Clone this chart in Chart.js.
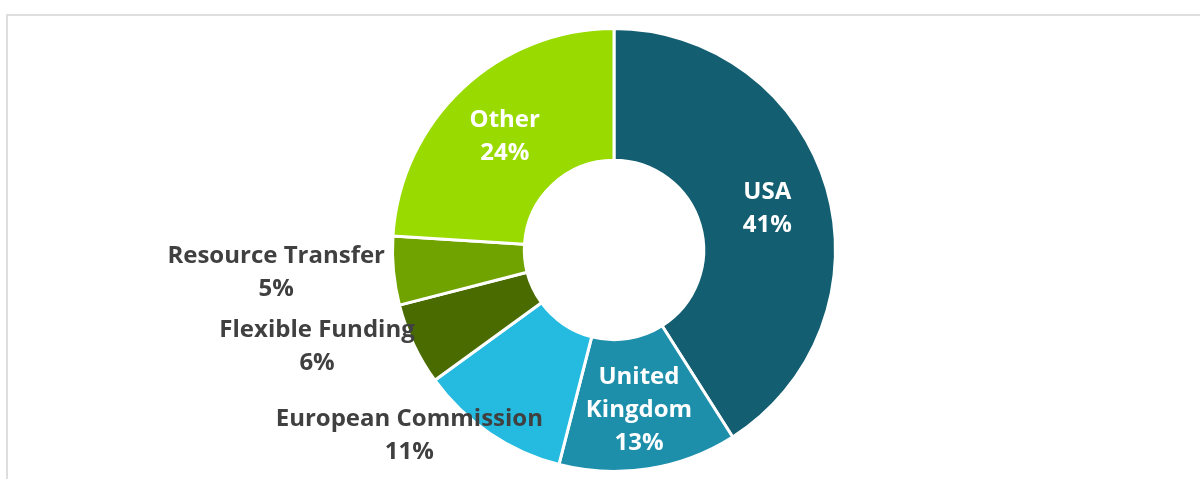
<!DOCTYPE html>
<html>
<head>
<meta charset="utf-8">
<script src="https://cdn.jsdelivr.net/npm/chart.js@4/dist/chart.umd.min.js"></script>
<style>
    html, body { margin: 0; padding: 0; background: #fff; }
    #wrap { position: relative; width: 1200px; height: 479px; overflow: hidden; }
    #frame {
        position: absolute; left: 6px; top: 14px; width: 1300px; height: 600px;
        border-top: 2px solid #dedede; border-left: 2px solid #dedede;
    }
    #chart { position: absolute; left: 0; top: 0; }
</style>
</head>
<body>
<div id="wrap">
    <div id="frame"></div>
    <canvas id="chart" width="1200" height="479"></canvas>
</div>
<script>
const categories = ['USA', 'United Kingdom', 'European Commission', 'Flexible Funding', 'Resource Transfer', 'Other'];
const shares = [41, 13, 11, 6, 5, 24];
const labelLines = [['USA'], ['United', 'Kingdom'], ['European Commission'], ['Flexible Funding'], ['Resource Transfer'], ['Other']];
const labelInside = [true, true, false, false, false, true];
const sliceColors = ['#135e71', '#1e8fab', '#25bbe0', '#496b00', '#71a300', '#99da00'];

const FONT = 'bold 24px "Open Sans"';
const LINE_H = 33;

// draws the slice labels, white ones inside the ring, grey ones outside
const sliceLabels = {
    id: 'sliceLabels',
    afterDatasetsDraw(chart) {
        const ctx = chart.ctx;
        const arcs = chart.getDatasetMeta(0).data;
        ctx.save();
        ctx.font = FONT;
        ctx.textAlign = 'center';
        ctx.textBaseline = 'middle';
        arcs.forEach((arc, i) => {
            const p = arc.getProps(['x', 'y', 'startAngle', 'endAngle', 'innerRadius', 'outerRadius'], true);
            const mid = (p.startAngle + p.endAngle) / 2;
            const lines = labelLines[i].concat([shares[i] + '%']);
            let cx, cy;
            if (labelInside[i]) {
                const r = (p.innerRadius + p.outerRadius) / 2 + 4;
                cx = p.x + Math.cos(mid) * r;
                cy = p.y + Math.sin(mid) * r + 3;
                ctx.fillStyle = '#ffffff';
            } else {
                const w = Math.max(...lines.map(l => ctx.measureText(l).width));
                const ax = p.x + Math.cos(mid) * p.outerRadius;
                const ay = p.y + Math.sin(mid) * p.outerRadius;
                cx = ax + Math.cos(mid) * (w / 2 + 9);
                cy = ay + 2;
                ctx.fillStyle = '#404040';
            }
            const top = cy - (lines.length - 1) * LINE_H / 2;
            lines.forEach((l, k) => ctx.fillText(l, cx, top + k * LINE_H));
        });
        ctx.restore();
    }
};

const ctx = document.getElementById('chart').getContext('2d');
new Chart(ctx, {
    type: 'doughnut',
    data: {
        labels: categories,
        datasets: [{
            data: shares,
            backgroundColor: sliceColors,
            borderColor: '#ffffff',
            borderWidth: 3,
            hoverOffset: 0
        }]
    },
    options: {
        responsive: false,
        animation: false,
        cutout: '40.5%',
        layout: { padding: { left: 28, right: 0, top: 27, bottom: 6 } },
        plugins: {
            legend: { display: false },
            tooltip: { enabled: false }
        }
    },
    plugins: [sliceLabels]
});
</script>
</body>
</html>
